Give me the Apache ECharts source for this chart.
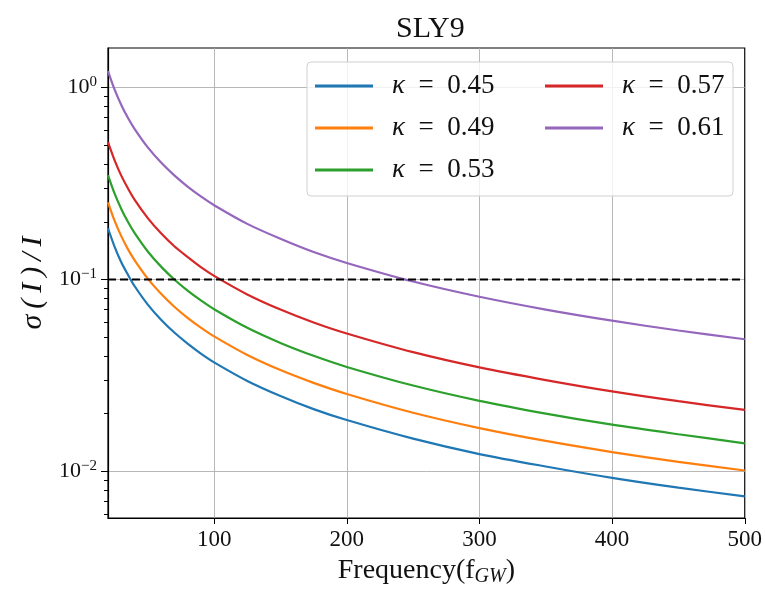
<!DOCTYPE html>
<html>
<head>
<meta charset="utf-8">
<script src="https://cdn.jsdelivr.net/npm/echarts@6/dist/echarts.min.js"></script>
<style>
  html, body { margin: 0; padding: 0; background: #fff; }
  #chart { width: 765px; height: 592px; }
</style>
</head>
<body>
<div id="chart"></div>
<script>
// frequency samples (f_GW)
var freq = [20, 25, 30, 35, 40, 50, 60, 70, 80, 90, 100, 125, 150, 175, 200, 250, 300, 350, 400, 450, 500];

var k045 = [0.185, 0.148, 0.123, 0.106, 0.0925, 0.074, 0.0617, 0.0529, 0.0463, 0.0411, 0.037, 0.0296, 0.0247, 0.0211, 0.0185, 0.0148, 0.0123, 0.0106, 0.00925, 0.00822, 0.0074];
var k049 = [0.2525, 0.202, 0.1683, 0.144, 0.1263, 0.101, 0.0842, 0.0721, 0.0631, 0.0561, 0.0505, 0.0404, 0.0337, 0.0289, 0.0253, 0.0202, 0.0168, 0.0144, 0.0126, 0.0112, 0.0101];
var k053 = [0.35, 0.28, 0.2333, 0.2, 0.175, 0.14, 0.1167, 0.1, 0.0875, 0.0778, 0.07, 0.056, 0.0467, 0.04, 0.035, 0.028, 0.0233, 0.02, 0.0175, 0.0156, 0.014];
var k057 = [0.52, 0.418, 0.348, 0.299, 0.261, 0.209, 0.174, 0.149, 0.131, 0.116, 0.1045, 0.0836, 0.0697, 0.0597, 0.0523, 0.0418, 0.0348, 0.0299, 0.0261, 0.0232, 0.0209];
var k061 = [1.22, 0.976, 0.813, 0.697, 0.61, 0.488, 0.407, 0.349, 0.305, 0.271, 0.244, 0.195, 0.163, 0.139, 0.122, 0.0976, 0.0813, 0.0697, 0.061, 0.0542, 0.0488];

var seriesNames = ['κ = 0.45', 'κ = 0.49', 'κ = 0.53', 'κ = 0.57', 'κ = 0.61'];
var seriesData = [k045, k049, k053, k057, k061];
var colors = ['#1f77b4', '#ff7f0e', '#2ca02c', '#d62728', '#9467bd'];

var threshold = 0.1;
var xRange = [20, 500];
var xTicks = [100, 200, 300, 400, 500];
var yMajor = [0.01, 0.1, 1];
var yMinor = [0.006, 0.007, 0.008, 0.009, 0.02, 0.03, 0.04, 0.05, 0.06, 0.07, 0.08, 0.09,
              0.2, 0.3, 0.4, 0.5, 0.6, 0.7, 0.8, 0.9];

var serif = 'Liberation Serif';

var myChart = echarts.init(document.getElementById('chart'));

function pairs(ys) {
    var res = [];
    for (var i = 0; i < freq.length; i++) {
        res.push([freq[i], ys[i]]);
    }
    return res;
}

var series = [];
for (var i = 0; i < seriesNames.length; i++) {
    series.push({
        name: seriesNames[i],
        type: 'line',
        data: pairs(seriesData[i]),
        smooth: 0.3,
        showSymbol: false,
        lineStyle: { color: colors[i], width: 2.2 },
        itemStyle: { color: colors[i] },
        z: 3
    });
}
series.push({
    name: 'threshold',
    type: 'line',
    data: [[xRange[0], threshold], [xRange[1], threshold]],
    showSymbol: false,
    lineStyle: { color: '#000', width: 2.2, type: [8, 4] },
    z: 4
});

// legend pieces shared by the two columns
var legendText = {
    fontFamily: serif,
    fontSize: 27,
    lineHeight: 30,
    color: '#111',
    padding: [0, 0, 0, 14],
    rich: {
        k: { fontFamily: serif, fontStyle: 'italic', fontSize: 27, color: '#111' }
    }
};
function legendFmt(name) {
    var parts = name.split(' = ');
    return '{k|κ}\u2002=\u2002' + parts[1];
}

var option = {
    animation: false,
    backgroundColor: '#fff',
    color: colors,
    title: {
        text: 'SLY9',
        left: 391,
        top: 9,
        textStyle: { fontFamily: serif, fontSize: 30, fontWeight: 'normal', color: '#111' }
    },
    grid: {
        left: 108, right: 18, top: 48, bottom: 74,
        show: true,
        borderColor: '#000',
        borderWidth: 1.2,
        backgroundColor: 'transparent'
    },
    legend: [
        {
            data: seriesNames.slice(0, 3),
            orient: 'vertical',
            left: 307,
            top: 62,
            padding: [9, 8, 11, 8],
            itemGap: 12,
            itemWidth: 58,
            itemHeight: 3,
            icon: 'rect',
            backgroundColor: 'rgba(255,255,255,0.8)',
            borderColor: '#d0d0d0',
            borderWidth: 1,
            borderRadius: 4,
            formatter: legendFmt,
            textStyle: echarts.util.extend({ width: 333 }, legendText),
            z: 5
        },
        {
            data: seriesNames.slice(3),
            orient: 'vertical',
            left: 537,
            top: 62,
            padding: [9, 8, 11, 8],
            itemGap: 12,
            itemWidth: 58,
            itemHeight: 3,
            icon: 'rect',
            formatter: legendFmt,
            textStyle: legendText,
            z: 6
        }
    ],
    xAxis: {
        type: 'value',
        min: xRange[0],
        max: xRange[1],
        name: 'Frequency(f{sub|GW})',
        nameLocation: 'middle',
        nameGap: 37,
        nameTextStyle: {
            fontFamily: serif,
            fontSize: 28,
            color: '#111',
            rich: {
                sub: { fontFamily: serif, fontStyle: 'italic', fontSize: 20, padding: [12, 0, 0, 0], color: '#111' }
            }
        },
        axisLine: { onZero: false, lineStyle: { color: '#000', width: 1.2 } },
        axisTick: { customValues: xTicks, length: 6, lineStyle: { color: '#000', width: 1 } },
        axisLabel: {
            customValues: xTicks,
            fontFamily: serif,
            fontSize: 23,
            color: '#111',
            margin: 10
        },
        splitLine: { show: true, lineStyle: { color: '#b0b0b0', width: 0.9 } }
    },
    yAxis: [
        {
            type: 'log',
            logBase: 10,
            min: 0.00571,
            max: 1.61,
            name: 'σ\u2009(\u2009I\u2009)\u2009/\u2009I',
            nameLocation: 'middle',
            nameGap: 60,
            nameTextStyle: { fontFamily: serif, fontStyle: 'italic', fontSize: 30, color: '#111' },
            axisLine: { onZero: false, lineStyle: { color: '#000', width: 1.2 } },
            axisTick: { customValues: yMajor, length: 7, lineStyle: { color: '#000', width: 1 } },
            axisLabel: {
                customValues: yMajor,
                margin: 11,
                formatter: function (v) {
                    var e = Math.round(Math.log10(v));
                    return '{b|10}{s|' + (e < 0 ? '−' + (-e) : e) + '}';
                },
                rich: {
                    b: { fontFamily: serif, fontSize: 22, color: '#111' },
                    s: { fontFamily: serif, fontSize: 15, color: '#111', padding: [0, 0, 11, 0] }
                }
            },
            splitLine: { show: true, lineStyle: { color: '#b0b0b0', width: 0.9 } },
            minorTick: { show: false },
            minorSplitLine: { show: false }
        },
        {
            type: 'log',
            logBase: 10,
            min: 0.00571,
            max: 1.61,
            position: 'left',
            axisLine: { show: false },
            axisTick: { customValues: yMinor, length: 4, lineStyle: { color: '#000', width: 1 } },
            axisLabel: { show: false },
            splitLine: { show: false }
        }
    ],
    series: series
};

myChart.setOption(option);
window.addEventListener('resize', function () {
    myChart.resize();
});
</script>
</body>
</html>
